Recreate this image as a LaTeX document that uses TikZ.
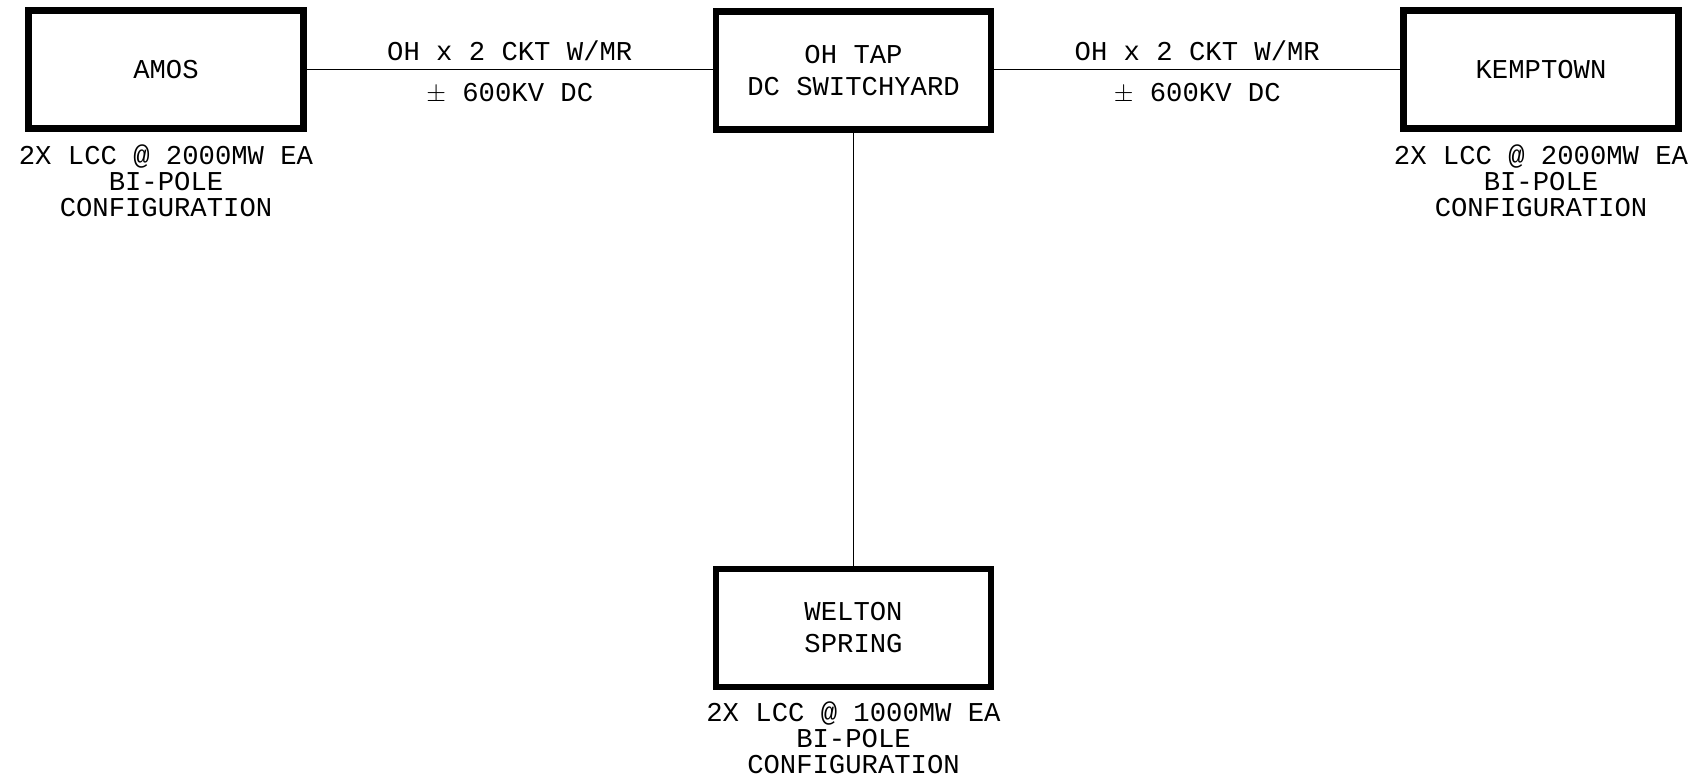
\documentclass[tikz,border=0pt]{standalone}
\usepackage{fontspec}
\newfontfamily\cadfont{Liberation Mono}
\usetikzlibrary{positioning}

\begin{document}
\begin{tikzpicture}[
    station/.style={draw, line width=3.6pt, minimum width=5.5cm, minimum height=2.36cm,
                    align=center, font=\cadfont\fontsize{15.5pt}{18.2pt}\selectfont},
    rating/.style={align=center, inner sep=0pt,
                   font=\cadfont\fontsize{15.5pt}{14.8pt}\selectfont},
    feeder/.style={line width=0.85pt},
    linelabel/.style={inner sep=0pt, text depth=0pt, text height=10.2pt,
                      font=\cadfont\fontsize{15.5pt}{18pt}\selectfont}]
    \useasboundingbox (0,0) rectangle (34.06,-15.58);
    % converter stations
    \node[station] (amos) at (3.32,-1.39) {AMOS};
    \node[station] (tap) at (17.07,-1.41) {OH TAP\\ DC SWITCHYARD};
    \node[station] (kemp) at (30.82,-1.39) {KEMPTOWN};
    \node[station] (welton) at (17.07,-12.56) {WELTON\\ SPRING};
    % ratings under the boxes
    \node[rating, below=0.26cm of amos] (amosrate) {2X LCC @ 2000MW EA\\ BI-POLE\\ CONFIGURATION};
    \node[rating, below=0.26cm of kemp] (kemprate) {2X LCC @ 2000MW EA\\ BI-POLE\\ CONFIGURATION};
    \node[rating, below=0.22cm of welton] (weltonrate) {2X LCC @ 1000MW EA\\ BI-POLE\\ CONFIGURATION};
    % overhead lines
    \draw[feeder] (amos.east) -- (amos.east -| tap.west)
      node[linelabel, midway, above=0.17cm] {OH x 2 CKT W/MR}
      node[linelabel, midway, below=0.27cm] {$\pm$ 600KV DC};
    \draw[feeder] (tap.east |- kemp.west) -- (kemp.west)
      node[linelabel, midway, above=0.17cm] {OH x 2 CKT W/MR}
      node[linelabel, midway, below=0.27cm] {$\pm$ 600KV DC};
    \draw[feeder] (tap.south) -- (welton.north);
\end{tikzpicture}
\end{document}
